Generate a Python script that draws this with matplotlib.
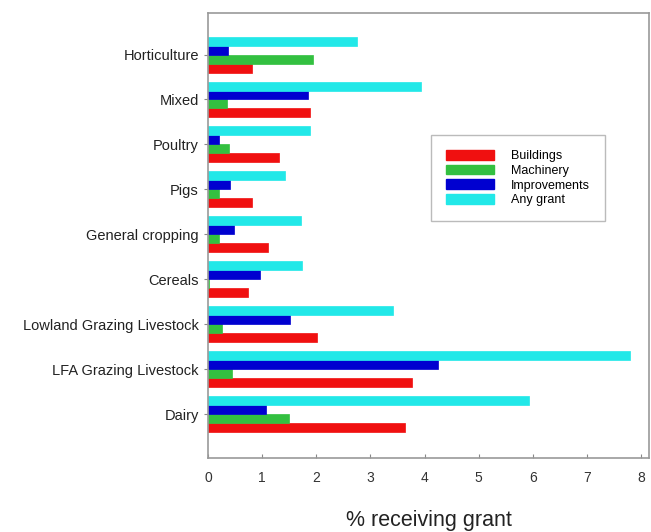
import numpy as np
import matplotlib
matplotlib.use('Agg')
import matplotlib.pyplot as plt
from matplotlib.patches import Patch

plt.rcParams['font.family'] = ['Liberation Sans', 'DejaVu Sans']

categories = ['Dairy', 'LFA Grazing Livestock', 'Lowland Grazing Livestock', 'Cereals',
              'General cropping', 'Pigs', 'Poultry', 'Mixed', 'Horticulture']
buildings    = [3.64, 3.77, 2.02, 0.74, 1.10, 0.81, 1.32, 1.89, 0.81]
machinery    = [1.49, 0.44, 0.26, 0.02, 0.20, 0.20, 0.39, 0.35, 1.93]
improvements = [1.08, 4.25, 1.51, 0.96, 0.48, 0.40, 0.20, 1.84, 0.37]
any_grant    = [5.92, 7.80, 3.42, 1.73, 1.71, 1.42, 1.89, 3.93, 2.76]

series = [('Buildings', buildings, '#f01010'),
          ('Machinery', machinery, '#33c040'),
          ('Improvements', improvements, '#0000d0'),
          ('Any grant', any_grant, '#22e8e8')]

fig = plt.figure(figsize=(6.51, 5.32), dpi=100)
ax = fig.add_axes([0.3195, 0.139, 0.678, 0.837])

y = np.arange(len(categories))
h = 0.2
for k, (name, vals, col) in enumerate(series):
    ax.barh(y + (k - 1.5) * h, vals, height=h, color=col, edgecolor=col, linewidth=0.5)

ax.set_xlim(0, 8.15)
ax.set_ylim(-0.98, 8.93)
ax.set_yticks(y)
ax.set_yticklabels(categories, fontsize=10.5, color='#222222')
ax.set_xticks(range(9))
ax.tick_params(axis='x', direction='in', labelsize=10, labelcolor='#333333', length=3,
               color='#888888', pad=9)
ax.tick_params(axis='y', direction='out', length=3, color='#888888')
for s in ax.spines.values():
    s.set_color('#999999')
    s.set_linewidth(1.2)
ax.set_xlabel('% receiving grant', fontsize=15.5, color='#222222', labelpad=18)

handles = [Patch(facecolor=c, edgecolor=c, label=n) for n, _, c in series]
leg = ax.legend(handles=handles, loc='upper left', bbox_to_anchor=(0.492, 0.739),
                fontsize=9, frameon=True, fancybox=False, handlelength=3.8,
                handleheight=0.8, labelspacing=0.2, borderpad=1.2, handletextpad=1.35)
leg.get_frame().set_edgecolor('#aaaaaa')
leg.get_frame().set_linewidth(1.0)

fig.savefig('out.png', dpi=100)
